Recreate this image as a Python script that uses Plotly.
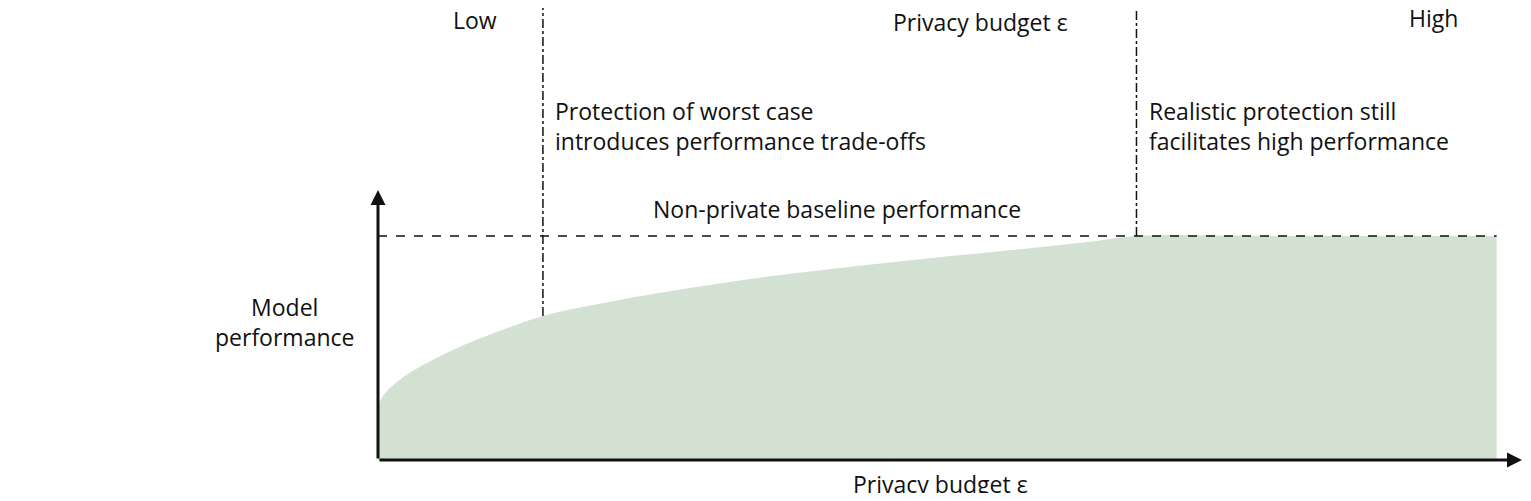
import plotly.graph_objects as go

# Conceptual curve: privacy budget (epsilon, arbitrary units) vs model performance (relative)
epsilon = [0, 0.05, 0.15, 0.3, 0.5, 0.75, 1.0, 1.47, 2.0, 2.5, 3.0, 3.5, 4.0, 4.5, 5.0, 5.5, 6.0, 6.4, 6.76, 8.0, 9.97]
performance = [0.245, 0.29, 0.34, 0.395, 0.45, 0.51, 0.56, 0.643, 0.70, 0.745, 0.785, 0.82, 0.85, 0.878, 0.905, 0.93, 0.955, 0.978, 1.0, 1.0, 1.0]
baseline = 1.0
eps_low_bound = 1.47
eps_high_bound = 6.76

OFF = 8  # page body margin
W, H = 1531 - 2 * OFF, 501 - 2 * OFF
X0, XS = 378, 112.2
Y0, YS = 460, 224

def ux(p): return (p - X0) / XS
def uy(p): return (Y0 - p) / YS

fig = go.Figure()
fig.add_trace(go.Scatter(x=epsilon, y=performance, mode="lines", line=dict(width=0, shape="spline"),
                         fill="tozeroy", fillcolor="#d3e1d3", hoverinfo="skip"))

font = dict(family="Open Sans, sans-serif", size=23, color="#111")
black = "#111"
shapes = []
shapes.append(dict(type="line", x0=0, x1=epsilon[-1], y0=baseline, y1=baseline,
                   line=dict(color=black, width=1.5, dash="dash")))
lowy = performance[epsilon.index(eps_low_bound)]
shapes.append(dict(type="line", x0=eps_low_bound, x1=eps_low_bound, y0=lowy, y1=uy(5),
                   line=dict(color=black, width=1.5, dash="dashdot")))
shapes.append(dict(type="line", x0=eps_high_bound, x1=eps_high_bound, y0=baseline, y1=uy(5),
                   line=dict(color=black, width=1.5, dash="dashdot")))
fig.update_layout(shapes=shapes)

anns = []
def arrow(xa, ya, xb, yb, w):
    anns.append(dict(x=xb, y=yb, ax=xa, ay=ya, xref="x", yref="y", axref="x", ayref="y",
                     showarrow=True, arrowhead=2, arrowsize=1, arrowwidth=w, arrowcolor=black, text=""))
arrow(0, 0, 0, uy(190), 3)
arrow(0, 0, ux(1522), 0, 3)
arrow(0, uy(3), ux(1522), uy(3), 2)

def txt(s, xp, yp, anchor="left"):
    anns.append(dict(x=ux(xp), y=uy(yp), xref="x", yref="y", text=s, showarrow=False,
                     xanchor=anchor, yanchor="middle", font=font, align=anchor))
txt("Low", 475, 20, "center")
txt("Privacy budget ε", 980, 22, "center")
txt("High", 1433, 18, "center")
txt("Protection of worst case<br>introduces performance trade-offs", 553, 126)
txt("Realistic protection still<br>facilitates high performance", 1147, 126)
txt("Non-private baseline performance", 837, 209, "center")
txt("Model<br>performance", 284, 322, "center")
txt("Privacy budget ε", 940, 484, "center")
fig.update_layout(annotations=anns)

fig.update_layout(width=W, height=H, margin=dict(l=0, r=0, t=0, b=0),
                  plot_bgcolor="white", paper_bgcolor="white", showlegend=False,
                  xaxis=dict(range=[ux(OFF), ux(OFF + W)], visible=False, fixedrange=True),
                  yaxis=dict(range=[uy(OFF + H), uy(OFF)], visible=False, fixedrange=True))
fig.write_html("out.html")
